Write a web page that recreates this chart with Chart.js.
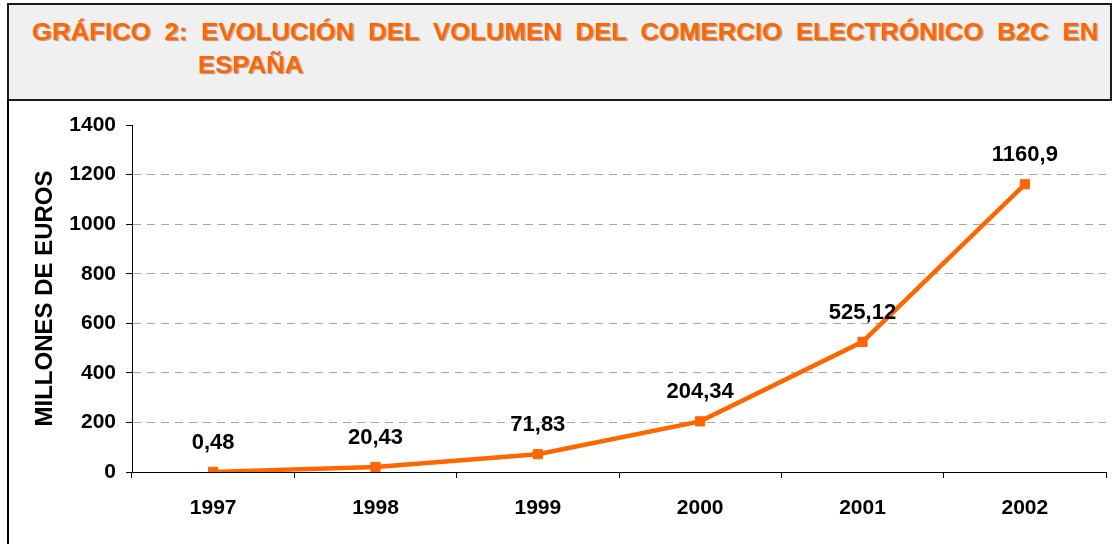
<!DOCTYPE html>
<html>
<head>
<meta charset="utf-8">
<script src="https://cdn.jsdelivr.net/npm/chart.js@4"></script>
<style>
  body { margin: 0; background: #fff; width: 1114px; height: 544px; overflow: hidden; position: relative; font-family: "Liberation Sans", Arial, sans-serif; }
  #titleBox { position: absolute; left: 7px; top: 3px; width: 1105px; height: 98px; box-sizing: border-box; background: #f0f0f0; border: 2px solid #1a1a1a; }
  .tline { position: absolute; font-weight: bold; font-size: 23px; line-height: 26px; color: #ff6600; text-shadow: 1px 1px 1px #9a9a9a; white-space: nowrap; transform: scaleX(1.12); transform-origin: 0 0; }
  #t1 { left: 32px; top: 19px; width: 952px; text-align: justify; text-align-last: justify; white-space: normal; }
  #t2 { left: 198px; top: 52px; }
  #chartBox { position: absolute; left: 7px; top: 100px; width: 1107px; height: 444px; box-sizing: border-box; border-left: 2px solid #000; }
</style>
</head>
<body>
<div id="titleBox"></div>
<div class="tline" id="t1">GRÁFICO 2: EVOLUCIÓN DEL VOLUMEN DEL COMERCIO ELECTRÓNICO B2C EN</div>
<div class="tline" id="t2">ESPAÑA</div>
<div id="chartBox"><canvas id="volChart" width="1105" height="444"></canvas></div>
<script>
// Data
const years = ["1997", "1998", "1999", "2000", "2001", "2002"];
const volumen = [0.48, 20.43, 71.83, 204.34, 525.12, 1160.9];
const yTicks = [0, 200, 400, 600, 800, 1000, 1200, 1400];

const orange = "#ff6600";
const fontFamily = "'Liberation Sans', Arial, sans-serif";

// Values written above each point, with a decimal comma
const valueLabels = {
  id: "valueLabels",
  afterDatasetsDraw(chart) {
    const ctx = chart.ctx;
    const meta = chart.getDatasetMeta(0);
    ctx.save();
    ctx.font = "bold 22px " + fontFamily;
    ctx.fillStyle = "#000";
    ctx.textAlign = "center";
    ctx.textBaseline = "middle";
    meta.data.forEach((pt, i) => {
      const txt = String(volumen[i]).replace(".", ",");
      ctx.fillText(txt, pt.x, pt.y - 29);
    });
    ctx.restore();
  }
};

new Chart(document.getElementById("volChart"), {
  type: "line",
  data: {
    labels: years,
    datasets: [{
      data: volumen,
      borderColor: orange,
      backgroundColor: orange,
      borderWidth: 4.5,
      pointStyle: "rect",
      pointRadius: 6.5,
      pointBorderWidth: 1,
      pointBorderColor: orange,
      pointBackgroundColor: orange,
      tension: 0
    }]
  },
  options: {
    responsive: false,
    animation: false,
    layout: { padding: { top: 25, right: 8, bottom: 0, left: 0 } },
    plugins: {
      legend: { display: false },
      tooltip: { enabled: false }
    },
    scales: {
      x: {
        offset: true,
        grid: {
          offset: true,
          drawOnChartArea: false,
          drawTicks: true,
          tickLength: 6,
          tickColor: "#000",
          tickWidth: 1
        },
        border: { color: "#000", width: 1 },
        ticks: {
          color: "#000",
          padding: 18,
          font: { family: fontFamily, size: 21, weight: "bold" }
        },
        afterFit(scale) { scale.height = 72; }
      },
      y: {
        min: 0,
        max: 1400,
        afterBuildTicks(scale) { scale.ticks = yTicks.map(v => ({ value: v })); },
        grid: {
          color: c => (c.tick && (c.tick.value === 0 || c.tick.value === 1400)) ? "rgba(0,0,0,0)" : "#a6a6a6",
          lineWidth: 1,
          tickLength: 6,
          tickColor: "#000",
          tickWidth: 1,
          tickBorderDash: []
        },
        border: { color: "#000", width: 1, dash: [8, 6] },
        ticks: {
          color: "#000",
          padding: 10,
          callback: v => String(v),
          font: { family: fontFamily, size: 21, weight: "bold" }
        },
        title: {
          display: true,
          text: "MILLONES DE EUROS",
          color: "#000",
          padding: { top: 22, bottom: 0 },
          font: { family: fontFamily, size: 24, weight: "bold" }
        },
        afterFit(scale) { scale.width = 123; }
      }
    }
  },
  plugins: [valueLabels]
});
</script>
</body>
</html>
